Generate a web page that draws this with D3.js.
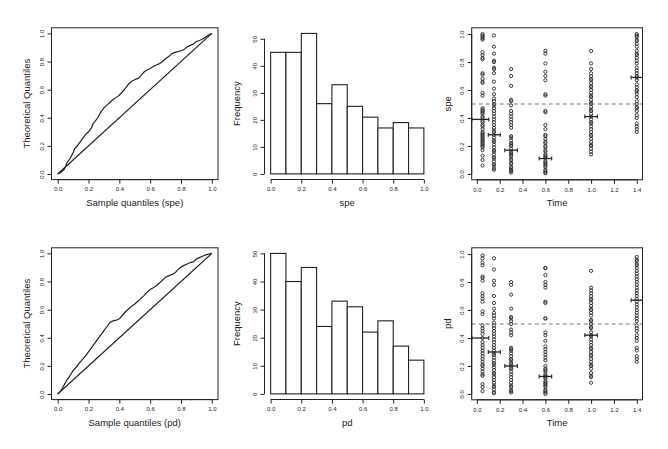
<!DOCTYPE html>
<html><head><meta charset="utf-8">
<script src="https://cdn.jsdelivr.net/npm/d3@7"></script>
<style>
body{margin:0;background:#fff}
text{font-family:"Liberation Sans",Arial,Helvetica,sans-serif;fill:#222}
</style>
</head><body>
<svg id="c" width="668" height="449"></svg>
<script>
// ---------------- DATA ----------------
const unitTicks = [0, 0.2, 0.4, 0.6, 0.8, 1.0];
const histYTicks = [0, 10, 20, 30, 40, 50];
const timeTicks = [0, 0.2, 0.4, 0.6, 0.8, 1.0, 1.2, 1.4];
const histBreaks = [0, 0.1, 0.2, 0.3, 0.4, 0.5, 0.6, 0.7, 0.8, 0.9, 1.0];
const speCounts = [45, 45, 52, 26, 33, 25, 21, 17, 19, 17];
const pdCounts  = [50, 40, 45, 24, 33, 31, 22, 26, 17, 12];

// QQ curves: [sample quantile, theoretical quantile]
const speQQ = [[0,0],[0.02,0.01],[0.04,0.03],[0.05,0.05],[0.06,0.08],[0.08,0.11],[0.1,0.15],[0.11,0.18],[0.12,0.19],[0.14,0.22],[0.16,0.25],[0.18,0.28],[0.2,0.30],[0.22,0.33],[0.23,0.36],[0.24,0.37],[0.26,0.40],[0.28,0.44],[0.30,0.47],[0.32,0.49],[0.34,0.51],[0.36,0.53],[0.38,0.545],[0.40,0.56],[0.42,0.585],[0.44,0.61],[0.46,0.64],[0.48,0.66],[0.50,0.67],[0.52,0.68],[0.54,0.70],[0.56,0.725],[0.58,0.74],[0.60,0.75],[0.62,0.765],[0.64,0.775],[0.66,0.785],[0.68,0.80],[0.70,0.82],[0.72,0.835],[0.74,0.855],[0.76,0.865],[0.78,0.87],[0.80,0.877],[0.82,0.885],[0.84,0.905],[0.86,0.915],[0.88,0.925],[0.90,0.943],[0.92,0.95],[0.94,0.96],[0.96,0.975],[0.98,0.99],[1.0,1.0]];
const pdQQ = [[0,0],[0.02,0.02],[0.04,0.06],[0.06,0.10],[0.08,0.13],[0.1,0.167],[0.12,0.19],[0.14,0.22],[0.16,0.245],[0.18,0.27],[0.2,0.30],[0.22,0.33],[0.24,0.36],[0.26,0.39],[0.28,0.42],[0.30,0.45],[0.32,0.48],[0.34,0.51],[0.36,0.52],[0.38,0.525],[0.40,0.535],[0.42,0.56],[0.44,0.585],[0.46,0.605],[0.48,0.625],[0.50,0.64],[0.52,0.66],[0.54,0.68],[0.56,0.70],[0.58,0.725],[0.60,0.743],[0.62,0.755],[0.64,0.77],[0.66,0.79],[0.68,0.81],[0.70,0.83],[0.72,0.84],[0.74,0.85],[0.76,0.86],[0.78,0.885],[0.80,0.903],[0.82,0.915],[0.84,0.925],[0.86,0.935],[0.88,0.94],[0.90,0.96],[0.92,0.97],[0.94,0.98],[0.96,0.99],[0.98,0.995],[1.0,1.0]];

const times = [0.05, 0.15, 0.3, 0.6, 1.0, 1.4];
const speByTime = [
  [1.0,0.99,0.98,0.97,0.96,0.87,0.85,0.83,0.82,0.72,0.71,0.68,0.66,0.65,0.58,0.56,0.47,0.46,0.45,0.44,0.43,0.41,0.40,0.38,0.37,0.35,0.34,0.32,0.30,0.29,0.28,0.27,0.26,0.25,0.24,0.23,0.22,0.21,0.20,0.19,0.17,0.13,0.10,0.06],
  [0.99,0.91,0.86,0.81,0.80,0.76,0.75,0.72,0.66,0.61,0.57,0.54,0.52,0.50,0.49,0.47,0.45,0.43,0.41,0.39,0.37,0.35,0.33,0.31,0.30,0.28,0.26,0.24,0.23,0.21,0.19,0.17,0.16,0.14,0.12,0.11,0.09,0.07,0.06,0.04,0.03],
  [0.75,0.70,0.63,0.53,0.52,0.49,0.45,0.43,0.41,0.39,0.37,0.35,0.33,0.27,0.26,0.24,0.22,0.21,0.20,0.18,0.16,0.15,0.14,0.13,0.11,0.10,0.08,0.07,0.05,0.04,0.03,0.02,0.01],
  [0.88,0.86,0.79,0.73,0.70,0.67,0.57,0.56,0.45,0.44,0.35,0.32,0.28,0.27,0.25,0.23,0.22,0.20,0.19,0.17,0.16,0.14,0.13,0.12,0.11,0.09,0.08,0.07,0.06,0.05,0.03,0.02,0.01,0.005],
  [0.88,0.79,0.75,0.72,0.70,0.68,0.67,0.65,0.63,0.62,0.60,0.58,0.56,0.55,0.53,0.51,0.50,0.48,0.46,0.45,0.43,0.41,0.39,0.37,0.36,0.34,0.32,0.30,0.28,0.27,0.25,0.23,0.21,0.20,0.18,0.16,0.14],
  [1.0,0.99,0.98,0.96,0.95,0.93,0.91,0.88,0.86,0.85,0.83,0.81,0.79,0.76,0.74,0.72,0.70,0.69,0.67,0.64,0.62,0.60,0.59,0.57,0.55,0.52,0.50,0.48,0.47,0.45,0.42,0.40,0.36,0.34,0.32,0.30]
];
const pdByTime = [
  [0.99,0.97,0.94,0.92,0.84,0.83,0.81,0.72,0.70,0.68,0.66,0.59,0.57,0.49,0.47,0.45,0.43,0.40,0.37,0.35,0.33,0.31,0.29,0.27,0.25,0.23,0.21,0.20,0.18,0.16,0.14,0.13,0.07,0.05,0.02],
  [0.97,0.89,0.81,0.78,0.70,0.65,0.61,0.58,0.56,0.54,0.51,0.49,0.47,0.45,0.43,0.41,0.39,0.37,0.35,0.33,0.31,0.29,0.28,0.26,0.24,0.22,0.21,0.19,0.17,0.15,0.14,0.12,0.10,0.08,0.06,0.05,0.03,0.01,0.005],
  [0.80,0.78,0.71,0.61,0.55,0.54,0.52,0.50,0.46,0.44,0.42,0.33,0.32,0.31,0.29,0.27,0.25,0.24,0.22,0.21,0.19,0.18,0.16,0.14,0.12,0.10,0.08,0.06,0.05,0.03,0.02,0.01],
  [0.90,0.90,0.85,0.80,0.78,0.76,0.66,0.65,0.54,0.54,0.44,0.42,0.38,0.34,0.32,0.30,0.28,0.26,0.24,0.20,0.18,0.17,0.16,0.14,0.13,0.12,0.11,0.09,0.08,0.07,0.06,0.05,0.03,0.02,0.01,0.0],
  [0.88,0.76,0.74,0.72,0.70,0.68,0.67,0.65,0.63,0.61,0.60,0.58,0.56,0.53,0.52,0.50,0.48,0.47,0.44,0.42,0.41,0.39,0.37,0.35,0.33,0.32,0.30,0.28,0.27,0.25,0.23,0.21,0.20,0.18,0.15,0.13,0.12,0.08],
  [0.98,0.96,0.95,0.93,0.92,0.90,0.88,0.86,0.84,0.82,0.80,0.78,0.76,0.74,0.72,0.70,0.68,0.66,0.64,0.62,0.60,0.58,0.56,0.54,0.52,0.49,0.47,0.45,0.42,0.40,0.38,0.33,0.31,0.27,0.25,0.23]
];
const speMeans = [0.39, 0.28, 0.17, 0.11, 0.41, 0.69];
const pdMeans  = [0.40, 0.30, 0.20, 0.125, 0.42, 0.67];
const errLo = [-0.044, 0.10, 0.245, 0.545, 0.945, 1.35];
const errHi = [0.105, 0.205, 0.355, 0.655, 1.055, 1.45];
const refLevel = 0.5;

// ---------------- DRAW ----------------
const svg = d3.select("#c");
const fmt1 = d3.format(".1f");
const fmt0 = d3.format("d");
const ink = "#222";

function xAxis(g, sc, ticks, f, y) {
  const a = g.append("g").attr("transform", `translate(0,${y})`)
    .call(d3.axisBottom(sc).tickValues(ticks).tickFormat(f).tickSize(4).tickPadding(3.5));
  a.select(".domain").remove();
  a.selectAll("line").attr("stroke", ink);
  a.selectAll("text").style("font-size", "6px").attr("fill", ink);
  a.append("line").attr("x1", sc(ticks[0])).attr("x2", sc(ticks[ticks.length-1]))
    .attr("stroke", ink);
}
function yAxis(g, sc, ticks, f, x) {
  const a = g.append("g").attr("transform", `translate(${x},0)`)
    .call(d3.axisLeft(sc).tickValues(ticks).tickFormat(f).tickSize(4));
  a.select(".domain").remove();
  a.selectAll("line").attr("stroke", ink);
  a.selectAll(".tick text").attr("x", 0).attr("dy", null).attr("y", -7.5)
    .attr("text-anchor", "middle").attr("transform", "rotate(-90)")
    .style("font-size", "6px").attr("fill", ink);
  a.append("line").attr("y1", sc(ticks[0])).attr("y2", sc(ticks[ticks.length-1]))
    .attr("stroke", ink);
}
function titles(g, xt, yt, cx, by, ax, cy) {
  g.append("text").attr("x", cx).attr("y", by).attr("text-anchor", "middle")
    .style("font-size", "9.5px").text(xt);
  g.append("text").attr("transform", `translate(${ax},${cy}) rotate(-90)`)
    .attr("text-anchor", "middle").style("font-size", "9.5px").text(yt);
}
function box(g, x0, x1, y0, y1) {
  g.append("rect").attr("x", x0).attr("y", y0).attr("width", x1-x0).attr("height", y1-y0)
    .attr("fill", "none").attr("stroke", ink);
}

function qqPanel(dy, data, label) {
  const g = svg.append("g");
  const x0 = 51.5, x1 = 218, y0 = 27.8 + dy, y1 = 179.6 + dy;
  const x = d3.scaleLinear().domain([-0.04, 1.04]).range([x0, x1]);
  const y = d3.scaleLinear().domain([-0.04, 1.04]).range([y1, y0]);
  box(g, x0, x1, y0, y1);
  g.append("line").attr("x1", x(0)).attr("y1", y(0)).attr("x2", x(1)).attr("y2", y(1))
    .attr("stroke", ink).attr("stroke-width", 1.2);
  g.append("path").datum(data)
    .attr("d", d3.line().x(d => x(d[0])).y(d => y(d[1])))
    .attr("fill", "none").attr("stroke", ink).attr("stroke-width", 1.2);
  xAxis(g, x, unitTicks, fmt1, y1);
  yAxis(g, y, unitTicks, fmt1, x0);
  titles(g, label, "Theoretical Quantiles", (x0+x1)/2, y1+26.5, x0-21.6, (y0+y1)/2);
}

function histPanel(dy, counts, label) {
  const g = svg.append("g");
  const x0 = 264.5, x1 = 430, y0 = 27.8 + dy, y1 = 179.5 + dy;
  const top = d3.max(counts);
  const x = d3.scaleLinear().domain([-0.04, 1.04]).range([x0, x1]);
  const y = d3.scaleLinear().domain([-0.04*top, 1.04*top]).range([y1, y0]);
  g.selectAll("rect.bar").data(counts).join("rect").attr("class", "bar")
    .attr("x", (d, i) => x(histBreaks[i])).attr("width", (d, i) => x(histBreaks[i+1]) - x(histBreaks[i]))
    .attr("y", d => y(d)).attr("height", d => y(0) - y(d))
    .attr("fill", "#fff").attr("stroke", ink).attr("stroke-width", 1.1);
  xAxis(g, x, unitTicks, fmt1, y1);
  yAxis(g, y, histYTicks, fmt0, x0);
  titles(g, label, "Frequency", (x0+x1)/2, y1+26.5, x0-25, (y0+y1)/2);
}

function scatterPanel(dy, groups, means, label) {
  const g = svg.append("g");
  const x0 = 471.7, x1 = 642.5, y0 = 27.8 + dy, y1 = 179.8 + dy;
  const x = d3.scaleLinear().domain([-0.045, 1.45]).range([x0, x1]);
  const y = d3.scaleLinear().domain([-0.042, 1.045]).range([y1, y0]);
  const pts = [];
  groups.forEach((arr, i) => arr.forEach(v => pts.push([times[i], v])));
  g.selectAll("circle").data(pts).join("circle")
    .attr("cx", d => x(d[0])).attr("cy", d => y(d[1])).attr("r", 1.6)
    .attr("fill", "none").attr("stroke", "#2a2a2a").attr("stroke-width", 0.9);
  g.append("line").attr("x1", x0).attr("x2", x1).attr("y1", y(refLevel)).attr("y2", y(refLevel))
    .attr("stroke", "#777").attr("stroke-width", 1.2).attr("stroke-dasharray", "4,3");
  means.forEach((m, i) => {
    const yy = y(m);
    g.append("line").attr("x1", x(errLo[i])).attr("x2", x(errHi[i])).attr("y1", yy).attr("y2", yy)
      .attr("stroke", ink).attr("stroke-width", 1.3);
    [errLo[i], errHi[i]].forEach(e => g.append("line").attr("x1", x(e)).attr("x2", x(e))
      .attr("y1", yy - 2).attr("y2", yy + 2).attr("stroke", ink).attr("stroke-width", 1.1));
  });
  box(g, x0, x1, y0, y1);
  xAxis(g, x, timeTicks, fmt1, y1);
  yAxis(g, y, unitTicks, fmt1, x0);
  titles(g, "Time", label, (x0+x1)/2, y1+26.5, x0-20.5, (y0+y1)/2);
}

qqPanel(0, speQQ, "Sample quantiles (spe)");
histPanel(0, speCounts, "spe");
scatterPanel(0, speByTime, speMeans, "spe");
qqPanel(220, pdQQ, "Sample quantiles (pd)");
histPanel(220, pdCounts, "pd");
scatterPanel(220, pdByTime, pdMeans, "pd");
</script>
</body></html>
